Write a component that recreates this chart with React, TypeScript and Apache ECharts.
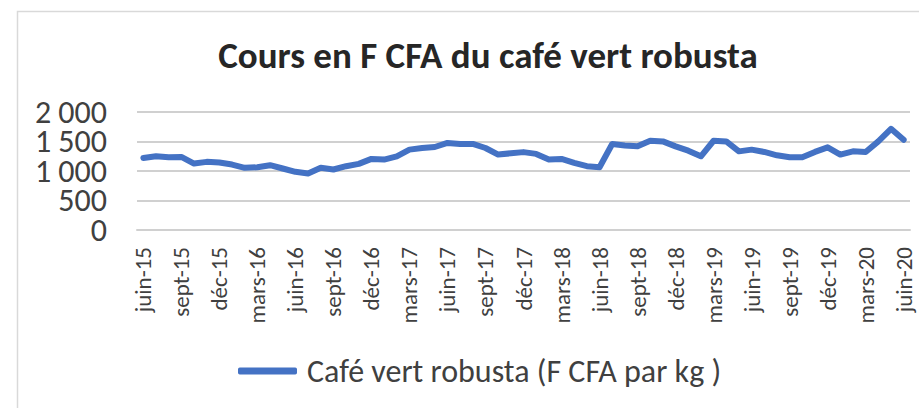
import React, { useEffect, useRef } from "react";
import * as echarts from "echarts";

const months = ["janv", "févr", "mars", "avr", "mai", "juin", "juil", "août", "sept", "oct", "nov", "déc"];

const categories: string[] = [];
for (let y = 15; y <= 20; y++) {
  for (let m = 0; m < 12; m++) {
    if ((y === 15 && m < 5) || (y === 20 && m > 5)) continue;
    categories.push(`${months[m]}-${y}`);
  }
}

const robustaValues = [
  1222, 1249, 1232, 1239, 1126, 1155, 1143, 1109, 1054, 1064,
  1098, 1042, 986, 958, 1054, 1025, 1081, 1121, 1205, 1194,
  1249, 1362, 1390, 1407, 1475, 1458, 1458, 1390, 1278, 1300,
  1320, 1290, 1194, 1205, 1138, 1081, 1064, 1458, 1434, 1418,
  1513, 1502, 1418, 1345, 1249, 1513, 1502, 1333, 1362, 1323,
  1266, 1232, 1232, 1323, 1401, 1278, 1333, 1323, 1502, 1715,
  1530,
];

const yTicks = [0, 500, 1000, 1500, 2000];

const seriesName = "Café vert robusta (F CFA par kg )";
const titleText = "Cours en F CFA du café vert robusta";

const FONT = "Carlito, 'Liberation Sans Narrow', 'Open Sans', sans-serif";
const GRID_COLOR = "#d0d0d0";

const fmt = (v: number) => String(v).replace(/\B(?=(\d{3})+(?!\d))/g, " ");

export default function App() {
  const ref = useRef<HTMLDivElement>(null);
  useEffect(() => {
    if (!ref.current) return;
    const chart = echarts.init(ref.current, undefined, { renderer: "svg" });
    chart.setOption({
      animation: false,
      backgroundColor: "#ffffff",
      textStyle: { fontFamily: FONT },
      title: {
        text: titleText,
        left: 483,
        textAlign: "center",
        top: 32,
        textStyle: { fontFamily: FONT, fontSize: 37, fontWeight: "bold", color: "#262626" },
      },
      legend: {
        left: 238,
        top: 355,
        padding: 0,
        icon: "roundRect",
        itemWidth: 59,
        itemHeight: 7,
        textStyle: { fontFamily: FONT, fontSize: 32, color: "#404040", padding: [0, 0, 0, 5] },
        data: [seriesName],
      },
      grid: { left: 137, right: 9, top: 112, bottom: 178, containLabel: false },
      xAxis: {
        type: "category",
        data: categories,
        boundaryGap: true,
        axisLine: { show: true, lineStyle: { color: GRID_COLOR, width: 2 } },
        axisTick: { show: false },
        axisLabel: {
          interval: 2,
          rotate: 90,
          margin: 17,
          fontFamily: FONT,
          fontSize: 23,
          color: "#404040",
        },
      },
      yAxis: {
        type: "value",
        min: yTicks[0],
        max: yTicks[yTicks.length - 1],
        interval: yTicks[1] - yTicks[0],
        axisLine: { show: false },
        axisTick: { show: false },
        splitLine: { show: true, lineStyle: { color: GRID_COLOR, width: 2 } },
        axisLabel: { show: false },
      },
      series: [
        {
          name: seriesName,
          type: "line",
          data: robustaValues,
          showSymbol: false,
          symbol: "none",
          lineStyle: { color: "#4472C4", width: 6, join: "round", cap: "round" },
          itemStyle: { color: "#4472C4" },
        },
      ],
    });
    const labels = yTicks.map((v) => {
      const py = chart.convertToPixel({ yAxisIndex: 0 }, v) as number;
      return {
        type: "text",
        x: 107,
        y: py,
        silent: true,
        style: {
          text: fmt(v),
          fontFamily: FONT,
          fontSize: 32,
          lineHeight: 26,
          fill: "#404040",
          align: "right",
          verticalAlign: "middle",
        },
      };
    });
    chart.setOption({
      graphic: [
        {
          type: "rect",
          z: -100,
          shape: { x: 17.5, y: 11.5, width: 1000, height: 600 },
          style: { fill: "transparent", stroke: "#d9d9d9", lineWidth: 1.5 },
          silent: true,
        },
        ...labels,
      ],
    });
    return () => chart.dispose();
  }, []);
  return (
    <div
      ref={ref}
      style={{ position: "fixed", left: 0, top: 0, width: 919, height: 408, background: "#fff" }}
    />
  );
}
